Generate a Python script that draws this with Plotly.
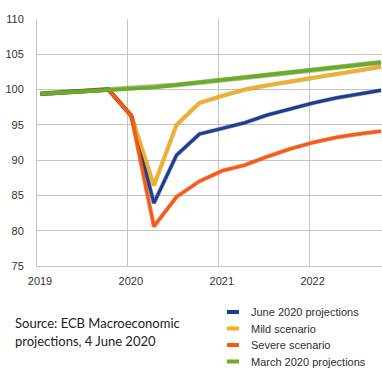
import plotly.graph_objects as go

# Quarterly observation dates (mid-month of the first month of each quarter)
quarters = [
    "2019-01-15", "2019-04-15", "2019-07-15", "2019-10-15",
    "2020-01-15", "2020-04-15", "2020-07-15", "2020-10-15",
    "2021-01-15", "2021-04-15", "2021-07-15", "2021-10-15",
    "2022-01-15", "2022-04-15", "2022-07-15", "2022-10-15",
]

# Real GDP index levels (2019Q4 = 100)
june_2020 = [99.4, 99.6, 99.8, 100.0, 96.3, 83.9, 90.7, 93.7,
             94.5, 95.3, 96.4, 97.3, 98.1, 98.8, 99.3, 99.9]
mild = [99.4, 99.6, 99.8, 100.0, 96.3, 86.4, 95.0, 98.1,
        99.1, 100.0, 100.6, 101.1, 101.7, 102.2, 102.7, 103.2]
severe = [99.4, 99.6, 99.8, 100.0, 96.3, 80.6, 84.8, 87.0,
          88.5, 89.3, 90.5, 91.6, 92.5, 93.2, 93.7, 94.1]
march_2020 = [99.4, 99.6, 99.8, 100.0, 100.1, 100.3, 100.65, 101.0,
              101.4, 101.7, 102.05, 102.4, 102.75, 103.1, 103.5, 103.85]

series_names = ["June 2020 projections", "Mild scenario",
                "Severe scenario", "March 2020 projections"]
series_values = [june_2020, mild, severe, march_2020]
colors = ["#1c3d96", "#f6b01b", "#ff580e", "#69ad22"]
edge_colors = ["rgba(20,30,70,0.45)", "rgba(140,95,20,0.45)",
               "rgba(150,50,20,0.45)", "rgba(70,90,40,0.40)"]
widths = [3.0, 3.0, 3.0, 3.8]

year_ticks = ["2019-01-01", "2020-01-01", "2021-01-01", "2022-01-01"]
year_labels = ["2019", "2020", "2021", "2022"]
y_ticks = [75, 80, 85, 90, 95, 100, 105, 110]

W, H = 382, 369
L, R, T, B = 37, 0, 19, 103
plot_w = W - L - R
plot_h = H - T - B


def px_x(px):
    return (px - L) / plot_w


def px_y(py):
    return (H - B - py) / plot_h


fig = go.Figure()
for name, vals, col, edge, w in zip(series_names, series_values, colors, edge_colors, widths):
    # soft darker rim under each line
    fig.add_trace(go.Scatter(x=quarters, y=vals, mode="lines",
                             line=dict(color=edge, width=w + 1.3),
                             showlegend=False, hoverinfo="skip"))
    fig.add_trace(go.Scatter(x=quarters, y=vals, name=name, mode="lines",
                             line=dict(color=col, width=w),
                             showlegend=False, hoverinfo="skip"))

grid = "#c4c4c4"
tick_font = dict(family="Liberation Sans, Arial, sans-serif", size=11, color="#333333")

fig.update_xaxes(
    type="date", range=["2019-01-01", "2022-10-19"],
    tickvals=year_ticks, ticktext=year_labels,
    showgrid=True, gridcolor=grid, gridwidth=1,
    showline=True, linecolor=grid, linewidth=1,
    ticks="", tickfont=tick_font, ticklabelstandoff=5, ticklabelshift=3,
    zeroline=False, fixedrange=True,
)
fig.update_yaxes(
    range=[75, 110], tickvals=y_ticks,
    showgrid=True, gridcolor=grid, gridwidth=1,
    showline=True, linecolor=grid, linewidth=1,
    ticks="", tickfont=tick_font, ticklabelstandoff=10,
    zeroline=False, fixedrange=True,
)

# Legend drawn as short colour bars with labels, bottom right
legend_rows = [312, 328.5, 345, 361.5]
shapes = []
annotations = []
for name, col, ry in zip(series_names, colors, legend_rows):
    shapes.append(dict(type="line", xref="paper", yref="paper",
                       x0=px_x(227), x1=px_x(239), y0=px_y(ry), y1=px_y(ry),
                       line=dict(color=col, width=4)))
    annotations.append(dict(x=px_x(249), y=px_y(ry), xref="paper", yref="paper",
                            text=name, showarrow=False, xanchor="left", yanchor="middle",
                            font=dict(family="Liberation Sans, Arial, sans-serif",
                                      size=11, color="#2e2e2e")))

source_font = dict(family="Lato, Open Sans, sans-serif", size=13, color="#222222")
for line_text, ly in [("Source: ECB Macroeconomic", 323), ("projections, 4 June 2020", 340.7)]:
    annotations.append(dict(x=px_x(13), y=px_y(ly), xref="paper", yref="paper",
                            text=line_text, showarrow=False, xanchor="left", yanchor="middle",
                            font=source_font))

fig.update_layout(
    width=W, height=H,
    margin=dict(l=L, r=R, t=T, b=B, pad=0),
    paper_bgcolor="white", plot_bgcolor="white",
    shapes=shapes, annotations=annotations,
    showlegend=False,
)

fig.write_html("out.html", config={"displayModeBar": False})
